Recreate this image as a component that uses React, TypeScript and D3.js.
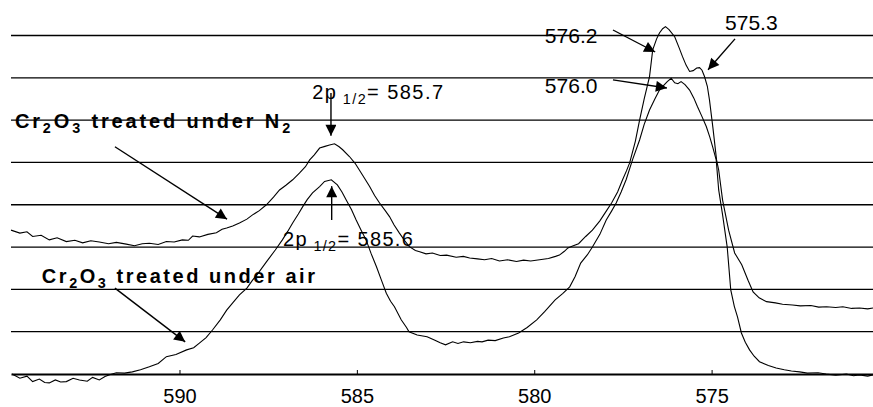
import React, { useEffect, useRef } from 'react';
import * as d3 from 'd3';

// binding energy (eV) and intensity (a.u., one unit per gridline)
const n2Energy = [
  594.75, 594.5, 594.3, 594.14, 593.9, 593.67, 593.45, 593.19, 592.95, 592.73, 592.5, 592.26,
  592.0, 591.78, 591.5, 591.27, 591.05, 590.85, 590.6, 590.37, 590.15, 589.92, 589.75, 589.63,
  589.44, 589.2, 588.96, 588.8, 588.67, 588.5, 588.31, 588.1, 587.94, 587.75, 587.55, 587.35,
  587.18, 587.0, 586.81, 586.62, 586.45, 586.33, 586.2, 586.05, 585.9, 585.77, 585.63, 585.5,
  585.4, 585.21, 585.05, 584.93, 584.78, 584.64, 584.5, 584.36, 584.2, 584.08, 583.95, 583.8,
  583.65, 583.52, 583.35, 583.23, 583.05, 582.87, 582.65, 582.47, 582.2, 582.0, 581.82, 581.6,
  581.4, 581.2, 580.98, 580.75, 580.5, 580.3, 580.1, 579.85, 579.6, 579.4, 579.29, 579.15,
  579.05, 578.9, 578.75, 578.55, 578.36, 578.15, 577.97, 577.82, 577.65, 577.51, 577.4, 577.31,
  577.15, 577.03, 576.9, 576.75, 576.66, 576.55, 576.47, 576.38, 576.3, 576.2, 576.04, 575.92,
  575.82, 575.72, 575.62, 575.52, 575.42, 575.34, 575.27, 575.2, 575.12, 575.06, 574.96, 574.86,
  574.8, 574.69, 574.52, 574.35, 574.15, 573.97, 573.83, 573.66, 573.45, 573.2, 573.0, 572.72,
  572.5, 572.2, 571.98, 571.76, 571.5, 571.3, 571.05, 570.83, 570.6, 570.45,
];
const n2Counts = [
  3.4, 3.33, 3.36, 3.25, 3.28, 3.17, 3.22, 3.13, 3.16, 3.1, 3.15, 3.12,
  3.08, 3.11, 3.07, 3.03, 3.08, 3.09, 3.06, 3.13, 3.12, 3.17, 3.16, 3.26,
  3.24, 3.3, 3.34, 3.42, 3.45, 3.5, 3.57, 3.66, 3.76, 3.86, 4.0, 4.18,
  4.35, 4.46, 4.59, 4.75, 4.9, 5.06, 5.18, 5.34, 5.38, 5.41, 5.44, 5.37,
  5.3, 5.14, 4.98, 4.82, 4.62, 4.43, 4.22, 4.04, 3.86, 3.72, 3.52, 3.33,
  3.15, 3.01, 2.92, 2.89, 2.84, 2.86, 2.8, 2.81, 2.76, 2.78, 2.74, 2.72,
  2.7, 2.73, 2.67, 2.7, 2.66, 2.69, 2.67, 2.7, 2.73, 2.78, 2.81, 2.9,
  2.98, 3.03, 3.08, 3.25, 3.4, 3.62, 3.85, 4.04, 4.3, 4.59, 4.8, 4.99,
  5.5, 6.0, 6.5, 7.03, 7.66, 7.92, 8.06, 8.16, 8.21, 8.14, 7.97, 7.72,
  7.5, 7.3, 7.15, 7.17, 7.23, 7.24, 7.18, 7.03, 6.8, 6.48, 5.8, 5.06,
  4.82, 4.11, 3.4, 2.86, 2.58, 2.21, 1.94, 1.8, 1.71, 1.68, 1.65, 1.63,
  1.61, 1.62, 1.58, 1.59, 1.57, 1.59, 1.55, 1.56, 1.54, 1.56,
];

const airEnergy = [
  594.72, 594.5, 594.3, 594.14, 593.95, 593.8, 593.67, 593.5, 593.35, 593.19, 593.0, 592.82,
  592.6, 592.45, 592.26, 592.1, 591.97, 591.78, 591.55, 591.33, 591.1, 590.85, 590.6, 590.37,
  590.1, 589.8, 589.6, 589.44, 589.25, 589.07, 588.85, 588.67, 588.5, 588.31, 588.1, 587.94,
  587.75, 587.55, 587.3, 587.1, 586.95, 586.81, 586.65, 586.53, 586.4, 586.25, 586.05, 585.91,
  585.72, 585.55, 585.42, 585.3, 585.15, 585.02, 584.88, 584.74, 584.6, 584.45, 584.3, 584.17,
  584.05, 583.94, 583.75, 583.6, 583.53, 583.3, 583.02, 582.8, 582.65, 582.5, 582.3, 582.15,
  581.99, 581.8, 581.6, 581.47, 581.3, 581.1, 580.87, 580.7, 580.44, 580.2, 579.93, 579.7,
  579.41, 579.2, 579.0, 578.85, 578.69, 578.5, 578.36, 578.15, 577.97, 577.82, 577.69, 577.55,
  577.41, 577.23, 577.03, 576.9, 576.75, 576.6, 576.47, 576.35, 576.25, 576.14, 576.04, 575.95,
  575.86, 575.75, 575.62, 575.5, 575.4, 575.28, 575.15, 575.05, 574.97, 574.87, 574.8, 574.69,
  574.56, 574.46, 574.36, 574.27, 574.16, 574.05, 573.93, 573.8, 573.65, 573.4, 573.18, 572.95,
  572.75, 572.52, 572.3, 572.0, 571.77, 571.5, 571.2, 571.0, 570.83, 570.6, 570.45,
];
const airCounts = [
  0.0, -0.1, -0.05, -0.18, -0.12, -0.2, -0.21, -0.14, -0.19, -0.18, -0.1, -0.14,
  -0.17, -0.08, -0.14, -0.06, -0.02, 0.03, 0.02, 0.05, 0.1, 0.17, 0.25, 0.41,
  0.46, 0.57, 0.62, 0.73, 0.86, 1.04, 1.28, 1.51, 1.68, 1.87, 2.03, 2.22,
  2.42, 2.65, 2.93, 3.17, 3.37, 3.57, 3.78, 3.95, 4.12, 4.28, 4.43, 4.55,
  4.59, 4.47, 4.3, 4.11, 3.88, 3.64, 3.4, 3.17, 2.85, 2.54, 2.2, 1.91,
  1.72, 1.59, 1.28, 1.1, 1.0, 0.92, 0.88, 0.8, 0.74, 0.69, 0.76, 0.72,
  0.76, 0.74, 0.77, 0.76, 0.8, 0.79, 0.85, 0.88, 0.97, 1.1, 1.28, 1.48,
  1.75, 1.9, 2.06, 2.3, 2.62, 2.82, 3.0, 3.3, 3.64, 3.85, 4.04, 4.3,
  4.59, 5.06, 5.53, 5.9, 6.24, 6.5, 6.71, 6.82, 6.91, 6.99, 6.88, 6.86,
  6.91, 6.84, 6.71, 6.52, 6.32, 6.1, 5.85, 5.6, 5.37, 5.06, 4.35, 3.76,
  3.0, 1.99, 1.6, 1.35, 0.97, 0.75, 0.57, 0.42, 0.29, 0.2, 0.14, 0.1,
  0.07, 0.05, 0.02, 0.03, 0.0, -0.03, 0.0, -0.04, -0.02, -0.05, -0.02,
];

const xTicks = [590, 585, 580, 575];
const gridLevels = [1, 2, 3, 4, 5, 6, 7, 8];

const App = () => {
  const ref = useRef<SVGSVGElement>(null);

  useEffect(() => {
    const svg = d3.select(ref.current);
    svg.selectAll('*').remove();

    const font = "'Liberation Sans', Arial, Helvetica, sans-serif";
    const x = d3.scaleLinear().domain([594.75, 570.45]).range([11, 873]);
    const y = d3.scaleLinear().domain([0, 8]).range([374, 35.5]);

    svg.append('defs').append('marker')
      .attr('id', 'head')
      .attr('viewBox', '0 0 10 10')
      .attr('refX', 10).attr('refY', 5)
      .attr('markerWidth', 13).attr('markerHeight', 11)
      .attr('markerUnits', 'userSpaceOnUse')
      .attr('orient', 'auto')
      .append('path').attr('d', 'M0,0L10,5L0,10Z').attr('fill', '#000');

    // horizontal gridlines
    svg.append('g').selectAll('line').data(gridLevels).join('line')
      .attr('x1', x.range()[0]).attr('x2', x.range()[1])
      .attr('y1', d => y(d)).attr('y2', d => y(d))
      .attr('stroke', '#000').attr('stroke-width', 1.3);

    const axis = svg.append('g')
      .attr('transform', `translate(0,${y(0)})`)
      .call(d3.axisBottom(x).tickValues(xTicks).tickSize(-4).tickSizeOuter(0).tickPadding(15));
    axis.select('.domain').attr('stroke-width', 2);
    axis.selectAll('text').attr('font-size', 20).attr('font-family', font).attr('fill', '#000');

    const line = d3.line<[number, number]>()
      .x(d => x(d[0]))
      .y(d => y(d[1]));

    [d3.zip(n2Energy, n2Counts), d3.zip(airEnergy, airCounts)].forEach(pts => {
      svg.append('path')
        .datum(pts as [number, number][])
        .attr('fill', 'none')
        .attr('stroke', '#000')
        .attr('stroke-width', 1.1)
        .attr('d', line);
    });

    // arrows, in data units
    const arrows = [
      [[591.82, 5.37], [588.66, 3.66]],
      [[591.82, 2.03], [589.84, 0.76]],
      [[585.73, 6.64], [585.73, 5.63]],
      [[585.71, 3.64], [585.71, 4.44]],
      [[577.78, 8.13], [576.59, 7.61]],
      [[577.78, 6.95], [576.26, 6.76]],
      [[574.34, 7.92], [575.1, 7.19]],
    ];
    svg.append('g').selectAll('line').data(arrows).join('line')
      .attr('x1', d => x(d[0][0])).attr('y1', d => y(d[0][1]))
      .attr('x2', d => x(d[1][0])).attr('y2', d => y(d[1][1]))
      .attr('stroke', '#000').attr('stroke-width', 1.4)
      .attr('marker-end', 'url(#head)');

    const label = (parts: [string, boolean][], at: number[], endE: number, size: number, bold: boolean) => {
      const t = svg.append('text')
        .attr('x', x(at[0])).attr('y', y(at[1]))
        .attr('font-family', font)
        .attr('font-size', size)
        .attr('font-weight', bold ? 'bold' : 'normal')
        .attr('textLength', x(endE) - x(at[0]))
        .attr('lengthAdjust', 'spacing')
        .style('white-space', 'pre');
      let shifted = false;
      parts.forEach(([s, sub]) => {
        const sp = t.append('tspan').text(s);
        if (sub && !shifted) { sp.attr('dy', 5); shifted = true; }
        if (!sub && shifted) { sp.attr('dy', -5); shifted = false; }
        if (sub) sp.attr('font-size', size * 0.72);
      });
    };

    label([['Cr', false], ['2', true], ['O', false], ['3', true], [' treated under N', false], ['2', true]],
      [594.64, 5.82], 586.88, 20, true);
    label([['Cr', false], ['2', true], ['O', false], ['3', true], [' treated under air', false]],
      [593.88, 2.15], 586.18, 20, true);
    label([['2p', false], [' 1/2', true], ['= 585.7', false]], [586.26, 6.5], 582.57, 20, false);
    label([['2p', false], [' 1/2', true], ['= 585.6', false]], [587.08, 3.03], 583.42, 20, false);

    const values = [
      ['576.2', 579.7, 7.83],
      ['576.0', 579.7, 6.64],
      ['575.3', 574.62, 8.13],
    ];
    svg.append('g').selectAll('text').data(values).join('text')
      .attr('x', d => x(d[1] as number)).attr('y', d => y(d[2] as number))
      .attr('font-family', font).attr('font-size', 21)
      .text(d => d[0] as string);
  }, []);

  return (
    <svg ref={ref} width={873} height={407}
      style={{ position: 'absolute', left: 0, top: 0, background: '#fff', display: 'block' }} />
  );
};

export default App;
